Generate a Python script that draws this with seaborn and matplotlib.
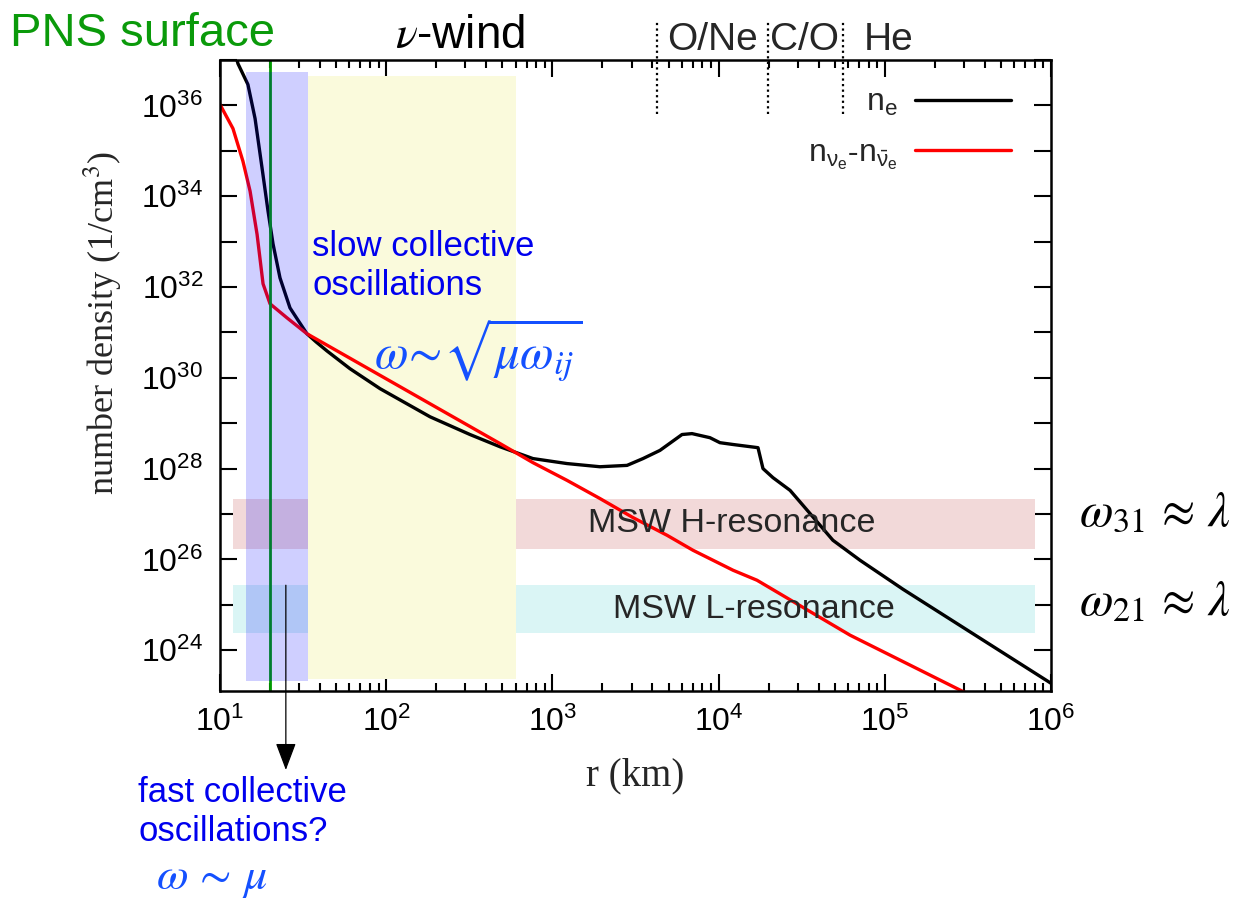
import numpy as np
import pandas as pd
import matplotlib
matplotlib.use("Agg")
import matplotlib.pyplot as plt
import seaborn as sns
from matplotlib.ticker import FixedLocator, FuncFormatter, LogLocator, NullFormatter
from matplotlib.lines import Line2D

# ---------------- data (log10 values) ----------------
log_r_e = [1.096, 1.108, 1.168, 1.211, 1.253, 1.289, 1.319, 1.361, 1.421, 1.469, 1.523,
           1.578, 1.644, 1.782, 1.963, 2.264, 2.504, 2.685, 2.883, 3.088, 3.286, 3.449,
           3.545, 3.647, 3.780, 3.840, 3.948, 4.008, 4.087, 4.237, 4.267, 4.327,
           4.430, 4.550, 4.688, 4.851, 5.110, 6.000]
log_n_e = [37.08, 36.92, 36.46, 35.71, 34.62, 33.67, 32.95, 32.20, 31.54, 31.27, 30.97,
           30.79, 30.59, 30.20, 29.76, 29.14, 28.75, 28.48, 28.22, 28.11, 28.04, 28.07,
           28.22, 28.40, 28.75, 28.77, 28.68, 28.57, 28.53, 28.46, 28.00, 27.80,
           27.52, 27.01, 26.42, 25.98, 25.34, 23.27]

log_r_nu = [1.000, 1.078, 1.138, 1.181, 1.223, 1.259, 1.301, 1.403, 1.523, 2.685,
            2.883, 3.088, 3.286, 3.485, 3.690, 3.846, 4.087, 4.231, 4.791, 5.453, 5.55]
log_n_nu = [36.02, 35.49, 34.77, 34.11, 33.16, 32.07, 31.63, 31.32, 30.97, 28.55,
            28.13, 27.74, 27.34, 26.92, 26.53, 26.20, 25.76, 25.54, 24.33, 23.12, 22.95]

# shaded regions: (r_min, r_max, log n_min, log n_max)
slow_band = (14.4, 33.9, 23.32, 36.73)
wind_band = (33.9, 604.0, 23.36, 36.64)
h_band = (12.0, 8.0e5, 26.22, 27.34)
l_band = (12.0, 8.0e5, 24.37, 25.43)
pns_radius = 20.0
shell_bounds = [4256, 19800, 56100]
shell_labels = ["O/Ne", "C/O", "He"]
shell_label_r = [9180, 32700, 105000]
arrow_r = 24.9

x_tick_exps = [1, 2, 3, 4, 5, 6]
y_tick_exps = [24, 26, 28, 30, 32, 34, 36]

df = pd.concat([
    pd.DataFrame({"r": np.power(10.0, log_r_e), "n": np.power(10.0, log_n_e), "series": "n_e"}),
    pd.DataFrame({"r": np.power(10.0, log_r_nu), "n": np.power(10.0, log_n_nu), "series": "n_nu"}),
])

# ---------------- style ----------------
sns.set_theme(style="ticks")
plt.rcParams["font.family"] = ["Liberation Sans", "DejaVu Sans"]
plt.rcParams["mathtext.fontset"] = "stix"

W, H = 1252, 909
fig = plt.figure(figsize=(W / 100, H / 100), dpi=100)
ax = fig.add_axes([220 / W, 1 - 691 / H, (1051 - 220) / W, (691 - 60) / H])
ax.set_xscale("log")
ax.set_yscale("log")
ax.set_xlim(10, 1e6)
ax.set_ylim(10 ** 23.1, 10 ** 37.0)

def band(b, color, z, alpha=1.0):
    ax.fill_between([b[0], b[1]], 10 ** b[2], 10 ** b[3], color=color,
                    lw=0, zorder=z, alpha=alpha)

band(h_band, "#f2d9d9", 1)
band(l_band, "#daf5f5", 1)
band(wind_band, "#fafadc", 1.5)

sns.lineplot(data=df, x="r", y="n", hue="series", palette={"n_e": "black", "n_nu": "red"},
             linewidth=2.4, legend=False, ax=ax, sort=False, zorder=2, estimator=None)

ax.axvline(pns_radius, color="#009a00", lw=2, zorder=2.6)
band(slow_band, "#0000ff", 3, alpha=0.19)

# shell boundaries (dotted, above the axes)
ax.vlines(shell_bounds, 10 ** 35.82, 10 ** 37.89, colors="black", linestyles=(0, (1, 1.5)),
          lw=1.6, clip_on=False, zorder=5)
for r, lab in zip(shell_label_r, shell_labels):
    ax.text(r, 10 ** 37.45, lab, ha="center", va="center", fontsize=28, clip_on=False)

# band labels
ax.text(10 ** 4.08, 10 ** 26.78, "MSW H-resonance", ha="center", va="center", fontsize=24.5, zorder=4)
ax.text(10 ** 4.21, 10 ** 24.9, "MSW L-resonance", ha="center", va="center", fontsize=24.5, zorder=4)

# arrow to fast collective oscillations
ann = ax.annotate("", xy=(arrow_r, 10 ** 21.36), xytext=(arrow_r, 10 ** 25.43),
                  arrowprops=dict(arrowstyle="-|>,head_length=0.85,head_width=0.32",
                                  mutation_scale=20, lw=0.9, color="black",
                                  shrinkA=0, shrinkB=0),
                  annotation_clip=False)
ann.arrow_patch.set_clip_on(False)

# ticks
ax.xaxis.set_major_locator(FixedLocator([10.0 ** e for e in x_tick_exps]))
ax.xaxis.set_major_formatter(FuncFormatter(lambda v, p: r"$\mathdefault{10^{%d}}$" % round(np.log10(v))))
ax.xaxis.set_minor_locator(LogLocator(base=10, subs=np.arange(2, 10)))
ax.xaxis.set_minor_formatter(NullFormatter())
ax.yaxis.set_major_locator(FixedLocator([10.0 ** e for e in range(23, 38)]))
ax.yaxis.set_major_formatter(FuncFormatter(
    lambda v, p: (r"$\mathdefault{10^{%d}}$" % round(np.log10(v))) if round(np.log10(v)) in y_tick_exps else ""))
ax.yaxis.set_minor_locator(FixedLocator([]))
ax.tick_params(which="both", direction="in", top=True, right=True, width=1.5, colors="black",
               labelsize=23)
ax.tick_params(which="major", length=12)
ax.tick_params(which="minor", length=6)
ax.tick_params(axis="x", pad=11)
ax.tick_params(axis="y", pad=12)
for s in ax.spines.values():
    s.set_linewidth(1.8)
    s.set_color("black")
    s.set_zorder(6)

ax.set_xlabel("r (km)", fontsize=28, family="Liberation Serif", labelpad=14)
ax.set_ylabel("number density (1/cm$^3$)", fontsize=26, family="Liberation Serif")
ax.yaxis.set_label_coords(-0.115, 0.583)

# legend
handles = [Line2D([], [], color="black", lw=2.4), Line2D([], [], color="red", lw=2.4)]
labels = [r"$\mathdefault{n_e}$", r"$\mathdefault{n_{\nu_e}\text{-}n_{\bar{\nu}_e}}$"]
ax.legend(handles, labels, loc="upper right", bbox_to_anchor=(0.952, 0.955), frameon=False,
          markerfirst=False, fontsize=23, handlelength=3.0, handletextpad=0.55,
          labelspacing=0.62, borderaxespad=0, borderpad=0)

# figure-level annotations
def fx(x):
    return x / W

def fy(y):
    return 1 - y / H

fig.text(fx(10), fy(34), "PNS surface", color="#0a9a0a", fontsize=34, ha="left", va="center")
fig.text(fx(460), fy(36), r"$\nu$-wind", color="black", fontsize=33, ha="center", va="center")
fig.text(fx(312), fy(266), "slow collective\noscillations", color="#0000ee", fontsize=25,
         ha="left", va="center", linespacing=1.25)
fig.text(fx(478), fy(350), r"$\omega\!\sim\!\sqrt{\mu\omega_{ij}}$", color="#1450ff", fontsize=35,
         ha="center", va="center")
fig.text(fx(138), fy(812), "fast collective\noscillations?", color="#0000ee", fontsize=25,
         ha="left", va="center", linespacing=1.25)
fig.text(fx(212), fy(878), r"$\omega\,\sim\,\mu$", color="#1450ff", fontsize=33,
         ha="center", va="center")
fig.text(fx(1155), fy(513), r"$\omega_{31}\,\approx\,\lambda$", color="black", fontsize=35,
         ha="center", va="center")
fig.text(fx(1155), fy(603), r"$\omega_{21}\,\approx\,\lambda$", color="black", fontsize=35,
         ha="center", va="center")

fig.savefig("out.png", dpi=100)
